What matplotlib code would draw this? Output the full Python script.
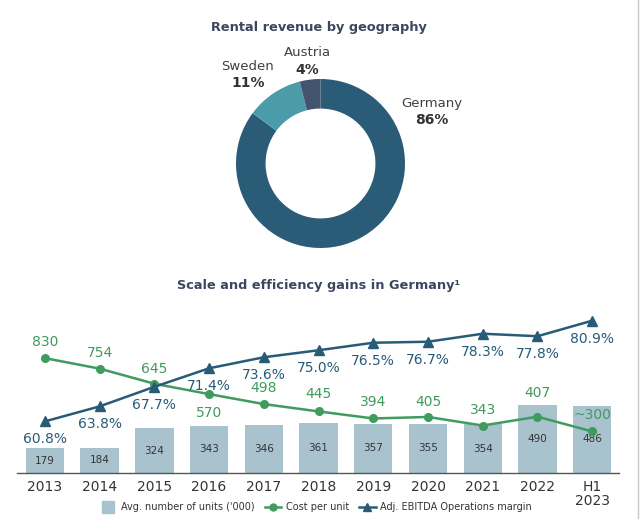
import numpy as np
import matplotlib
matplotlib.use("Agg")
import matplotlib.pyplot as plt
from matplotlib.lines import Line2D

# ---- data ----
geo_names = ["Germany", "Sweden", "Austria"]
geo_share = [86, 11, 4]

years = ["2013", "2014", "2015", "2016", "2017", "2018", "2019", "2020", "2021", "2022", "H1\n2023"]
units = [179, 184, 324, 343, 346, 361, 357, 355, 354, 490, 486]
cost = [830, 754, 645, 570, 498, 445, 394, 405, 343, 407, 300]
cost_labels = ["830", "754", "645", "570", "498", "445", "394", "405", "343", "407", "~300"]
margin = [60.8, 63.8, 67.7, 71.4, 73.6, 75.0, 76.5, 76.7, 78.3, 77.8, 80.9]

# ---- style ----
W, H = 640, 519
TITLE_C = "#3b4760"
TXT = "#333333"
BAR_C = "#a9c3ce"
GREEN = "#3f9b5e"
BLUE = "#285b78"
PIE_C = ["#2a5c78", "#4b9ba8", "#435370"]
# label offsets in pixels (positive = above the marker)
cost_off = [16, 16, 15, -19, 16, 17, 16, 15, 16, 24, 16]
margin_off = [-18] * len(margin)

def fx(px): return px / W
def fy(py): return 1 - py / H

fig = plt.figure(figsize=(W / 100, H / 100), dpi=100)

# ---- donut ----
fig.text(fx(318.5), fy(28), "Rental revenue by geography", ha="center", va="center",
         fontsize=9.3, weight="bold", color=TITLE_C)
axd = fig.add_axes([fx(236), fy(248), 169 / W, 169 / H])
axd.pie(geo_share, colors=PIE_C, startangle=90, counterclock=False,
        wedgeprops=dict(width=0.35, edgecolor="none"))
axd.set_xlim(-1, 1); axd.set_ylim(-1, 1); axd.axis("off")
label_pos = {"Germany": (432, 103), "Sweden": (248, 66), "Austria": (307, 53)}
for nm, sh in zip(geo_names, geo_share):
    px, py = label_pos[nm]
    fig.text(fx(px), fy(py), nm, ha="center", va="center", fontsize=9.5, color="#404040")
    fig.text(fx(px), fy(py + 17), f"{sh}%", ha="center", va="center", fontsize=10,
             weight="bold", color=TXT)

# ---- bars + lines ----
fig.text(fx(318.5), fy(285), "Scale and efficiency gains in Germany\u00b9", ha="center",
         va="center", fontsize=9.3, weight="bold", color=TITLE_C)
ax = fig.add_axes([fx(17), fy(473), (619 - 17) / W, 173 / H])
x = np.arange(len(years))
ax.bar(x, units, width=0.70, color=BAR_C, zorder=1)
for i, v in enumerate(units):
    ax.text(i, v / 2, str(v), ha="center", va="center", fontsize=7.5, color=TXT)
ax.plot(x, cost, color=GREEN, lw=1.8, marker="o", ms=5.5, zorder=3)
for i, v in enumerate(cost):
    ax.annotate(cost_labels[i], (i, v), xytext=(0, cost_off[i]), textcoords="offset pixels",
                ha="center", va="center", fontsize=10, color=GREEN)
ax.set_xlim(-0.51, 10.49); ax.set_ylim(0, 1250)
ax.set_xticks(x); ax.set_xticklabels(years)
ax.tick_params(axis="x", length=0, pad=5, labelsize=10, labelcolor=TXT)
for lbl in ax.get_xticklabels():
    lbl.set_linespacing(1.0)
ax.set_yticks([])
for s in ("top", "left", "right"):
    ax.spines[s].set_visible(False)
ax.spines["bottom"].set_color("#555555"); ax.spines["bottom"].set_linewidth(1.0)

ax2 = ax.twinx()
ax2.plot(x, margin, color=BLUE, lw=1.8, marker="^", ms=6.5, zorder=3)
for i, v in enumerate(margin):
    ax2.annotate(f"{v:.1f}%", (i, v), xytext=(0, margin_off[i]), textcoords="offset pixels",
                 ha="center", va="center", fontsize=10, color=BLUE)
ax2.set_ylim(50.5, 50.5 + 1250 / 36.2)
ax2.set_yticks([])
for s in ax2.spines.values():
    s.set_visible(False)

handles = [Line2D([], [], ls="none", marker="s", ms=9, color=BAR_C),
           Line2D([], [], color=GREEN, lw=1.8, marker="o", ms=5),
           Line2D([], [], color=BLUE, lw=1.8, marker="^", ms=5.5)]
labels = ["Avg. number of units ('000)", "Cost per unit", "Adj. EBITDA Operations margin"]
fig.legend(handles, labels, loc="center", bbox_to_anchor=(fx(316), fy(507)), ncol=3,
           frameon=False, fontsize=7, handlelength=1.7, handletextpad=0.5,
           columnspacing=1.0, labelcolor=TXT)

fig.add_artist(Line2D([fx(637.5)] * 2, [0, 1], transform=fig.transFigure,
                      color="#c8c8c8", lw=1))

fig.savefig("out.png", dpi=100)
